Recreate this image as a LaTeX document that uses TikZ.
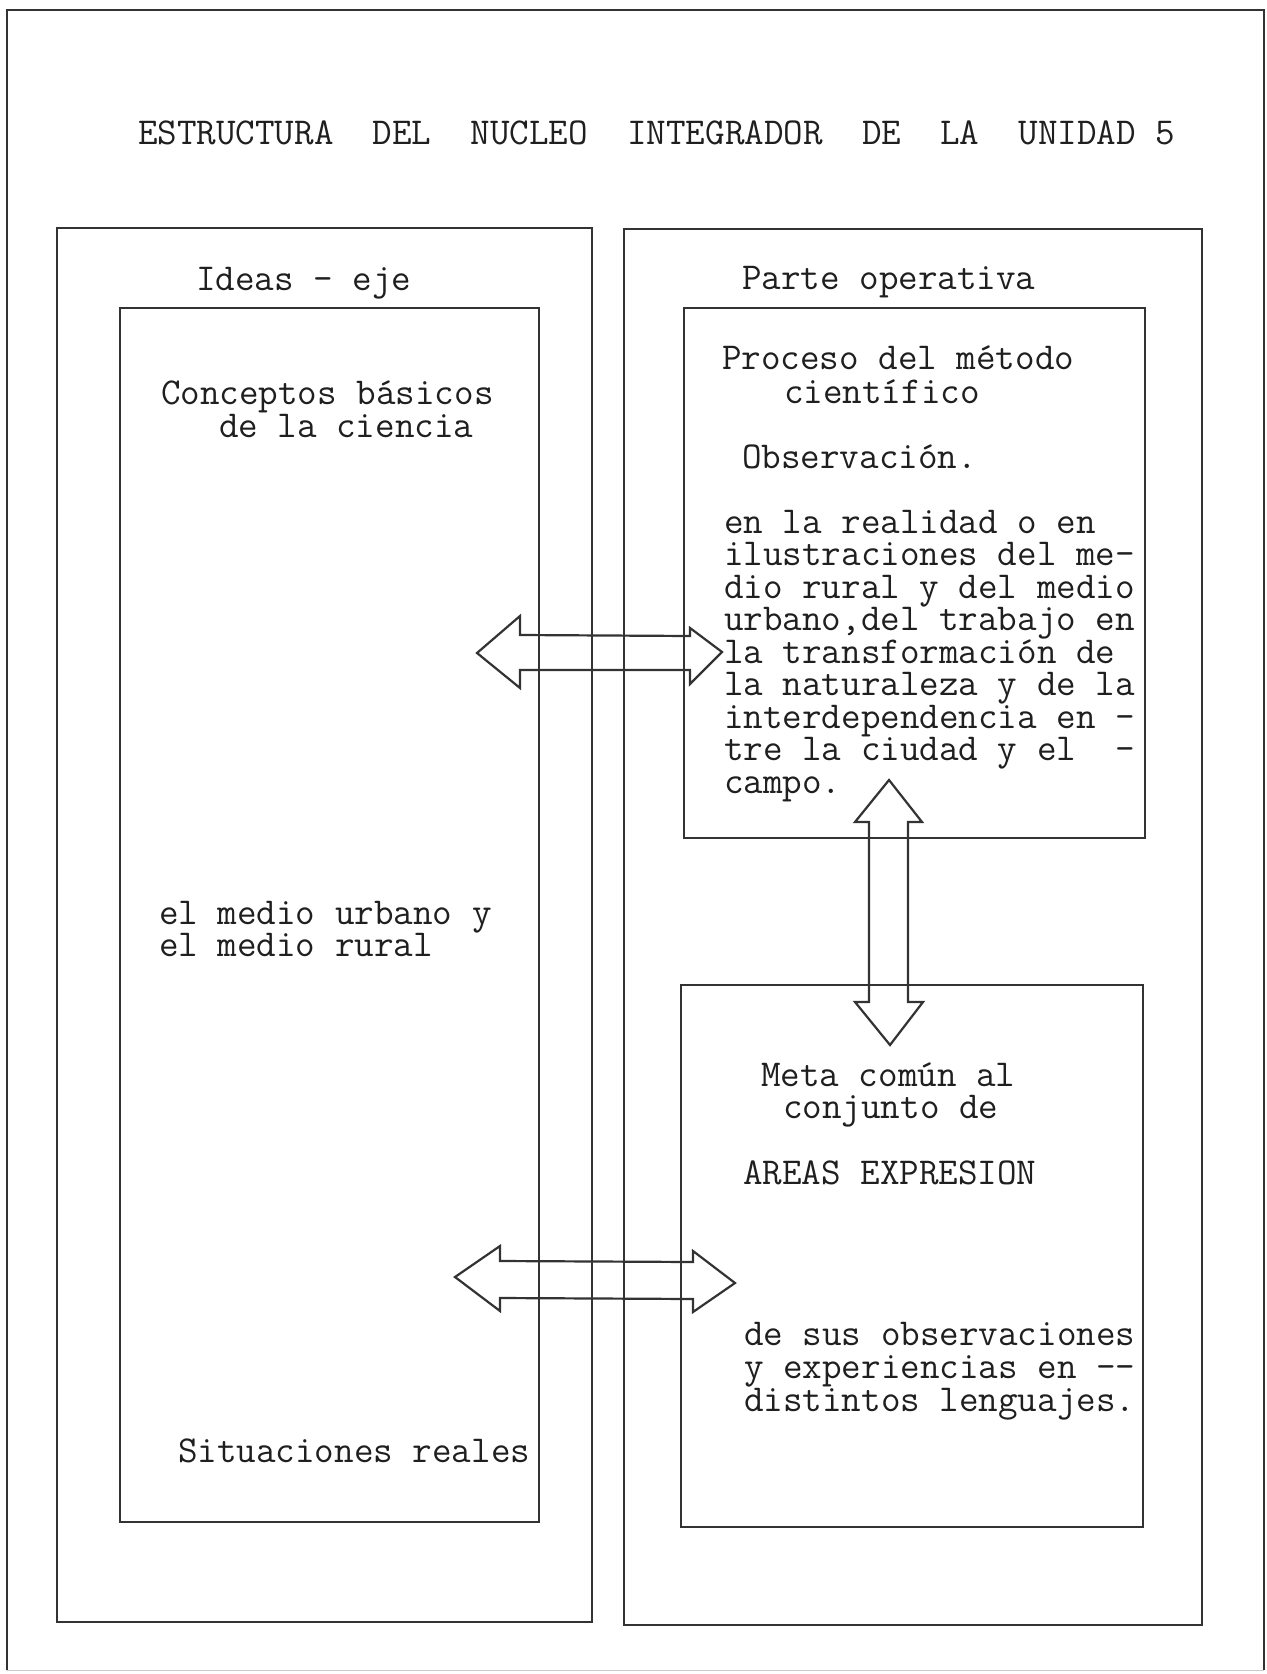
\documentclass[tikz,border=0pt]{standalone}
\usepackage{tikz}
\begin{document}
\begin{tikzpicture}[x=0.5pt,y=-0.5pt,
  box/.style={draw=black!80,line width=1.3pt,inner sep=0pt,outer sep=0pt},
  dblarrow/.style={draw=black!80,line width=1.1pt,line join=miter},
  txt/.style={anchor=base west,inner sep=0pt,outer sep=0pt,text=black!88,
    text height=10pt,text depth=3.5pt,
    font=\fontsize{19}{16.25}\selectfont\ttfamily}
]
\useasboundingbox (0,0) rectangle (1267,1674);
% outer frame
\node[inner sep=0pt,minimum width=628.5pt,minimum height=830pt] (frame) at (635.5,840) {};
\draw[black!80,line width=1pt] (frame.south west) -- (frame.north west) -- (frame.north east) -- (frame.south east);
\draw[black!20,line width=0.8pt] (frame.south west) -- (frame.south east);
% boxes
\node[box,minimum width=267.5pt,minimum height=697pt] (leftouter) at (324.5,925) {};
\node[box,minimum width=289pt,minimum height=698pt] (rightouter) at (913,927) {};
\node[box,minimum width=209.5pt,minimum height=607pt] (leftinner) at (329.5,915) {};
\node[box,minimum width=230.5pt,minimum height=265pt] (righttop) at (914.5,573) {};
\node[box,minimum width=231pt,minimum height=271pt] (rightbottom) at (912,1256) {};
% title
\node[txt] (title) at (138,145) {ESTRUCTURA~~DEL~~NUCLEO~~INTEGRADOR~~DE~~LA~~UNIDAD~5};
\node[txt] (ideas) at (196,291) {Ideas - eje};
\node[txt] (parte) at (742,290) {Parte operativa};
% left column texts
\node[txt] (conc1) at (161,404) {Conceptos básicos};
\node[txt] (conc2) at (219,437) {de la ciencia};
\node[txt] (medio1) at (159,924) {el medio urbano y};
\node[txt] (medio2) at (159,956) {el medio rural};
\node[txt] (sit) at (178,1462) {Situaciones reales};
% right top texts
\node[txt] (proc1) at (722,370) {Proceso del método};
\node[txt] (proc2) at (784,403) {científico};
\node[txt] (obs) at (742,468) {Observación.};
\foreach \linetext [count=\i] in {{en la realidad o en},{ilustraciones del me-},{dio rural y del medio},{urbano,del trabajo en},{la transformación de},{la naturaleza y de la},{interdependencia en -},{tre la ciudad y el~~-},{campo.}}
  \node[txt] (obsline\i) at (724,{533+32.5*(\i-1)}) {\linetext};
% right bottom texts
\node[txt] (meta1) at (761,1086) {Meta común al};
\node[txt] (meta2) at (783,1118) {conjunto de};
\node[txt] (areas) at (743,1184) {AREAS EXPRESION};
\node[txt] (desus1) at (744,1345) {de sus observaciones};
\node[txt] (desus2) at (744,1378) {y experiencias en -{}-};
\node[txt] (desus3) at (744,1411) {distintos lenguajes.};
% double arrows
\draw[dblarrow] (477,653) -- (520,616) -- (520,635) -- (690,636) -- (690,628) -- (722,652) -- (690,684) -- (690,670) -- (520,670) -- (520,688) -- cycle;
\draw[dblarrow] (455,1277) -- (500,1246) -- (500,1261) -- (693,1262) -- (693,1251) -- (735,1283) -- (693,1312) -- (693,1299) -- (500,1298) -- (500,1311) -- cycle;
\draw[dblarrow] (889,780) -- (922,822) -- (908,822) -- (908,1002) -- (923,1002) -- (890,1045) -- (855,1002) -- (869,1002) -- (869,822) -- (855,822) -- cycle;
\end{tikzpicture}
\end{document}
